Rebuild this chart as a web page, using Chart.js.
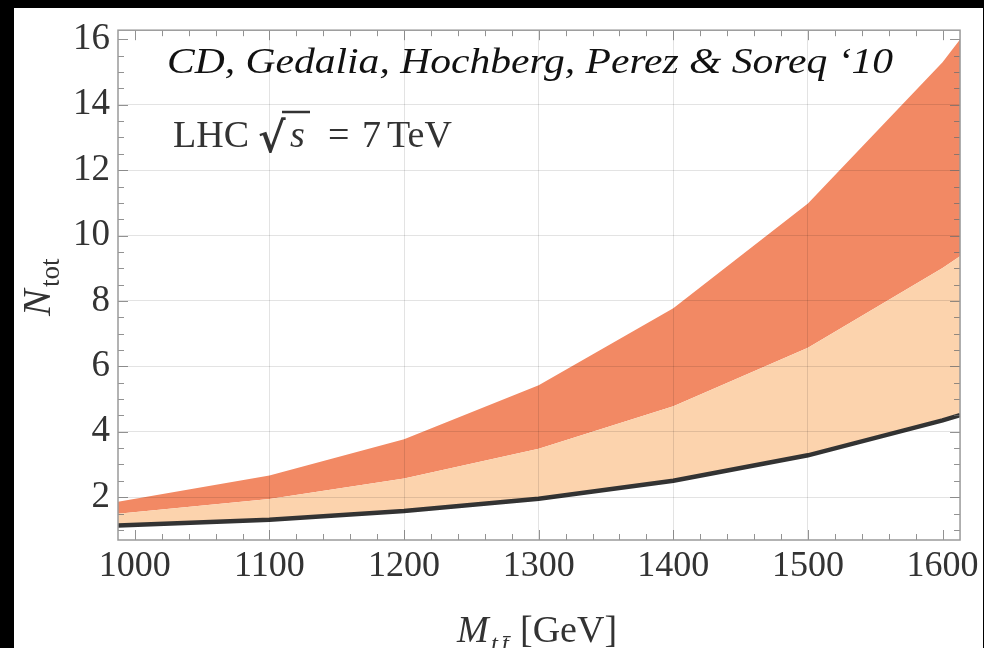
<!DOCTYPE html>
<html>
<head>
<meta charset="utf-8">
<script src="https://cdn.jsdelivr.net/npm/chart.js@4.4.1/dist/chart.umd.min.js"></script>
<style>
    html, body { margin: 0; padding: 0; background: #000; }
    #wrap { position: absolute; left: 0; top: 0; width: 984px; height: 648px; }
</style>
</head>
<body>
<div id="wrap"><canvas id="myChart" width="984" height="648"></canvas></div>
<script>
// invariant mass M_tt [GeV]; first/last points are where the band leaves the frame
let mass = [987.5, 1100, 1200, 1300, 1400, 1500, 1600, 1613];
let n_low = [1.13, 1.31, 1.58, 1.95, 2.50, 3.28, 4.35, 4.51];
let n_mid = [1.49, 1.94, 2.57, 3.48, 4.78, 6.57, 9.01, 9.37];
let n_high = [1.86, 2.66, 3.77, 5.42, 7.78, 10.98, 15.3, 16.0];

let x_ticks = [1000, 1100, 1200, 1300, 1400, 1500, 1600];
let y_ticks = [2, 4, 6, 8, 10, 12, 14, 16];
let x_grid = [1100, 1200, 1300, 1400, 1500];
let y_grid = [2, 4, 6, 8, 10, 12, 14];
let x_minor_step = 20;
let y_minor_step = 0.5;

let citation = 'CD, Gedalia, Hochberg, Perez & Soreq \u201810';

function points(ys) {
    return mass.map(function (m, i) { return { x: m, y: ys[i] } });
}

let serif = '"Liberation Serif", "Times New Roman", serif';

// black page with the white sheet on it
let background = {
    id: 'background',
    beforeDraw: function (chart) {
        let c = chart.ctx;
        c.save();
        c.fillStyle = '#000';
        c.fillRect(0, 0, chart.width, chart.height);
        c.fillStyle = '#fff';
        c.fillRect(14, 8, 969, 640);
        c.restore();
    }
};

// Mathematica-like frame with ticks pointing inward on all four sides
let frame = {
    id: 'frame',
    afterDraw: function (chart) {
        let c = chart.ctx;
        let a = chart.chartArea;
        let xs = chart.scales.x, ys = chart.scales.y;
        c.save();
        c.strokeStyle = 'rgba(110,110,110,0.75)';
        c.lineWidth = 1;
        c.beginPath();
        for (let v = x_ticks[0]; v <= xs.max; v += x_minor_step) {
            let len = x_ticks.includes(v) ? 10 : 6;
            let px = Math.round(xs.getPixelForValue(v)) + 0.5;
            c.moveTo(px, a.bottom); c.lineTo(px, a.bottom - len);
            c.moveTo(px, a.top); c.lineTo(px, a.top + len);
        }
        for (let v = 1; v <= ys.max; v += y_minor_step) {
            let len = y_ticks.includes(v) ? 10 : 6;
            let py = Math.round(ys.getPixelForValue(v)) + 0.5;
            c.moveTo(a.left, py); c.lineTo(a.left + len, py);
            c.moveTo(a.right, py); c.lineTo(a.right - len, py);
        }
        c.stroke();
        c.strokeStyle = '#9a9a9a';
        c.lineWidth = 1.5;
        c.strokeRect(a.left, a.top, a.right - a.left, a.bottom - a.top);
        c.restore();
    }
};

// axis titles and the two labels inside the plot
let texts = {
    id: 'texts',
    afterDraw: function (chart) {
        let c = chart.ctx;
        let a = chart.chartArea;
        c.save();
        c.textBaseline = 'alphabetic';
        c.textAlign = 'left';

        // citation, stretched to the width it has in the figure
        c.fillStyle = '#111';
        c.font = 'italic 36px "Liberation Serif"';
        let w = c.measureText(citation).width;
        c.save();
        c.translate(167, 73);
        c.scale(726 / w, 1);
        c.fillText(citation, 0, 0);
        c.restore();

        // LHC sqrt(s) = 7 TeV
        c.fillStyle = '#333';
        let base = 147;
        c.font = '38px "Liberation Serif"';
        c.fillText('LHC', 173, base);
        c.font = 'bold 42px "DejaVu Serif"';
        c.fillText('\u221A', 258, base + 5);
        c.strokeStyle = '#333';
        c.lineWidth = 2.5;
        c.beginPath();
        c.moveTo(282, 112);
        c.lineTo(310, 112);
        c.stroke();
        c.font = 'italic 38px "Liberation Serif"';
        c.fillText('s', 290, base);
        c.font = '38px "Liberation Serif"';
        c.fillText('=', 328, base);
        c.fillText('7', 362, base);
        c.fillText('TeV', 387, base);

        // x title: M_{t tbar} [GeV]
        let cx = (a.left + a.right) / 2;
        c.fillStyle = '#333';
        c.font = 'italic 38px "Liberation Serif"';
        c.fillText('M', cx - 82, 642);
        c.font = 'italic 25px "Liberation Serif"';
        c.fillText('t', cx - 48, 652);
        c.fillText('t\u0304', cx - 37, 652);
        c.font = '38px "Liberation Serif"';
        c.fillText('[GeV]', cx - 19, 642);

        // y title: N_tot
        let cy = (a.top + a.bottom) / 2;
        c.save();
        c.translate(50, cy);
        c.rotate(-Math.PI / 2);
        c.font = 'italic 40px "Liberation Serif"';
        c.fillText('N', -31, 0);
        c.font = '27px "Liberation Serif"';
        c.fillText('tot', -2, 9);
        c.restore();

        c.restore();
    }
};

let myChart = new Chart('myChart', {
    type: 'line',
    data: {
        datasets: [
            {
                label: 'lower',
                data: points(n_low),
                borderColor: '#333333',
                borderWidth: 4.5,
                pointRadius: 0,
                fill: false
            },
            {
                label: 'middle',
                data: points(n_mid),
                borderColor: 'transparent',
                borderWidth: 0,
                pointRadius: 0,
                backgroundColor: 'rgb(252, 211, 173)',
                fill: '-1'
            },
            {
                label: 'upper',
                data: points(n_high),
                borderColor: 'transparent',
                borderWidth: 0,
                pointRadius: 0,
                backgroundColor: 'rgb(242, 137, 100)',
                fill: '-1'
            }
        ]
    },
    options: {
        responsive: false,
        animation: false,
        devicePixelRatio: 1,
        layout: { padding: { top: 20, right: 22, left: 0, bottom: 0 } },
        plugins: {
            legend: { display: false },
            tooltip: { enabled: false }
        },
        scales: {
            x: {
                type: 'linear',
                min: 987.5,
                max: 1613,
                afterBuildTicks: function (s) { s.ticks = x_ticks.map(function (v) { return { value: v } }) },
                afterFit: function (s) { s.height = 108 },
                ticks: {
                    autoSkip: false,
                    maxRotation: 0,
                    font: { family: serif, size: 36 },
                    color: '#333',
                    padding: 5,
                    callback: function (v) { return String(v) }
                },
                grid: {
                    z: 1,
                    drawTicks: false,
                    color: function (ctx) { return ctx.tick && x_grid.includes(ctx.tick.value) ? 'rgba(0,0,0,0.11)' : 'transparent' }
                },
                border: { display: false }
            },
            y: {
                type: 'linear',
                min: 0.69,
                max: 16.28,
                afterBuildTicks: function (s) { s.ticks = y_ticks.map(function (v) { return { value: v } }) },
                afterFit: function (s) { s.width = 118 },
                ticks: {
                    autoSkip: false,
                    font: { family: serif, size: 37 },
                    color: '#333',
                    padding: 8,
                    callback: function (v) { return String(v) }
                },
                grid: {
                    z: 1,
                    drawTicks: false,
                    color: function (ctx) { return ctx.tick && y_grid.includes(ctx.tick.value) ? 'rgba(0,0,0,0.11)' : 'transparent' }
                },
                border: { display: false }
            }
        }
    },
    plugins: [background, frame, texts]
});
</script>
</body>
</html>
